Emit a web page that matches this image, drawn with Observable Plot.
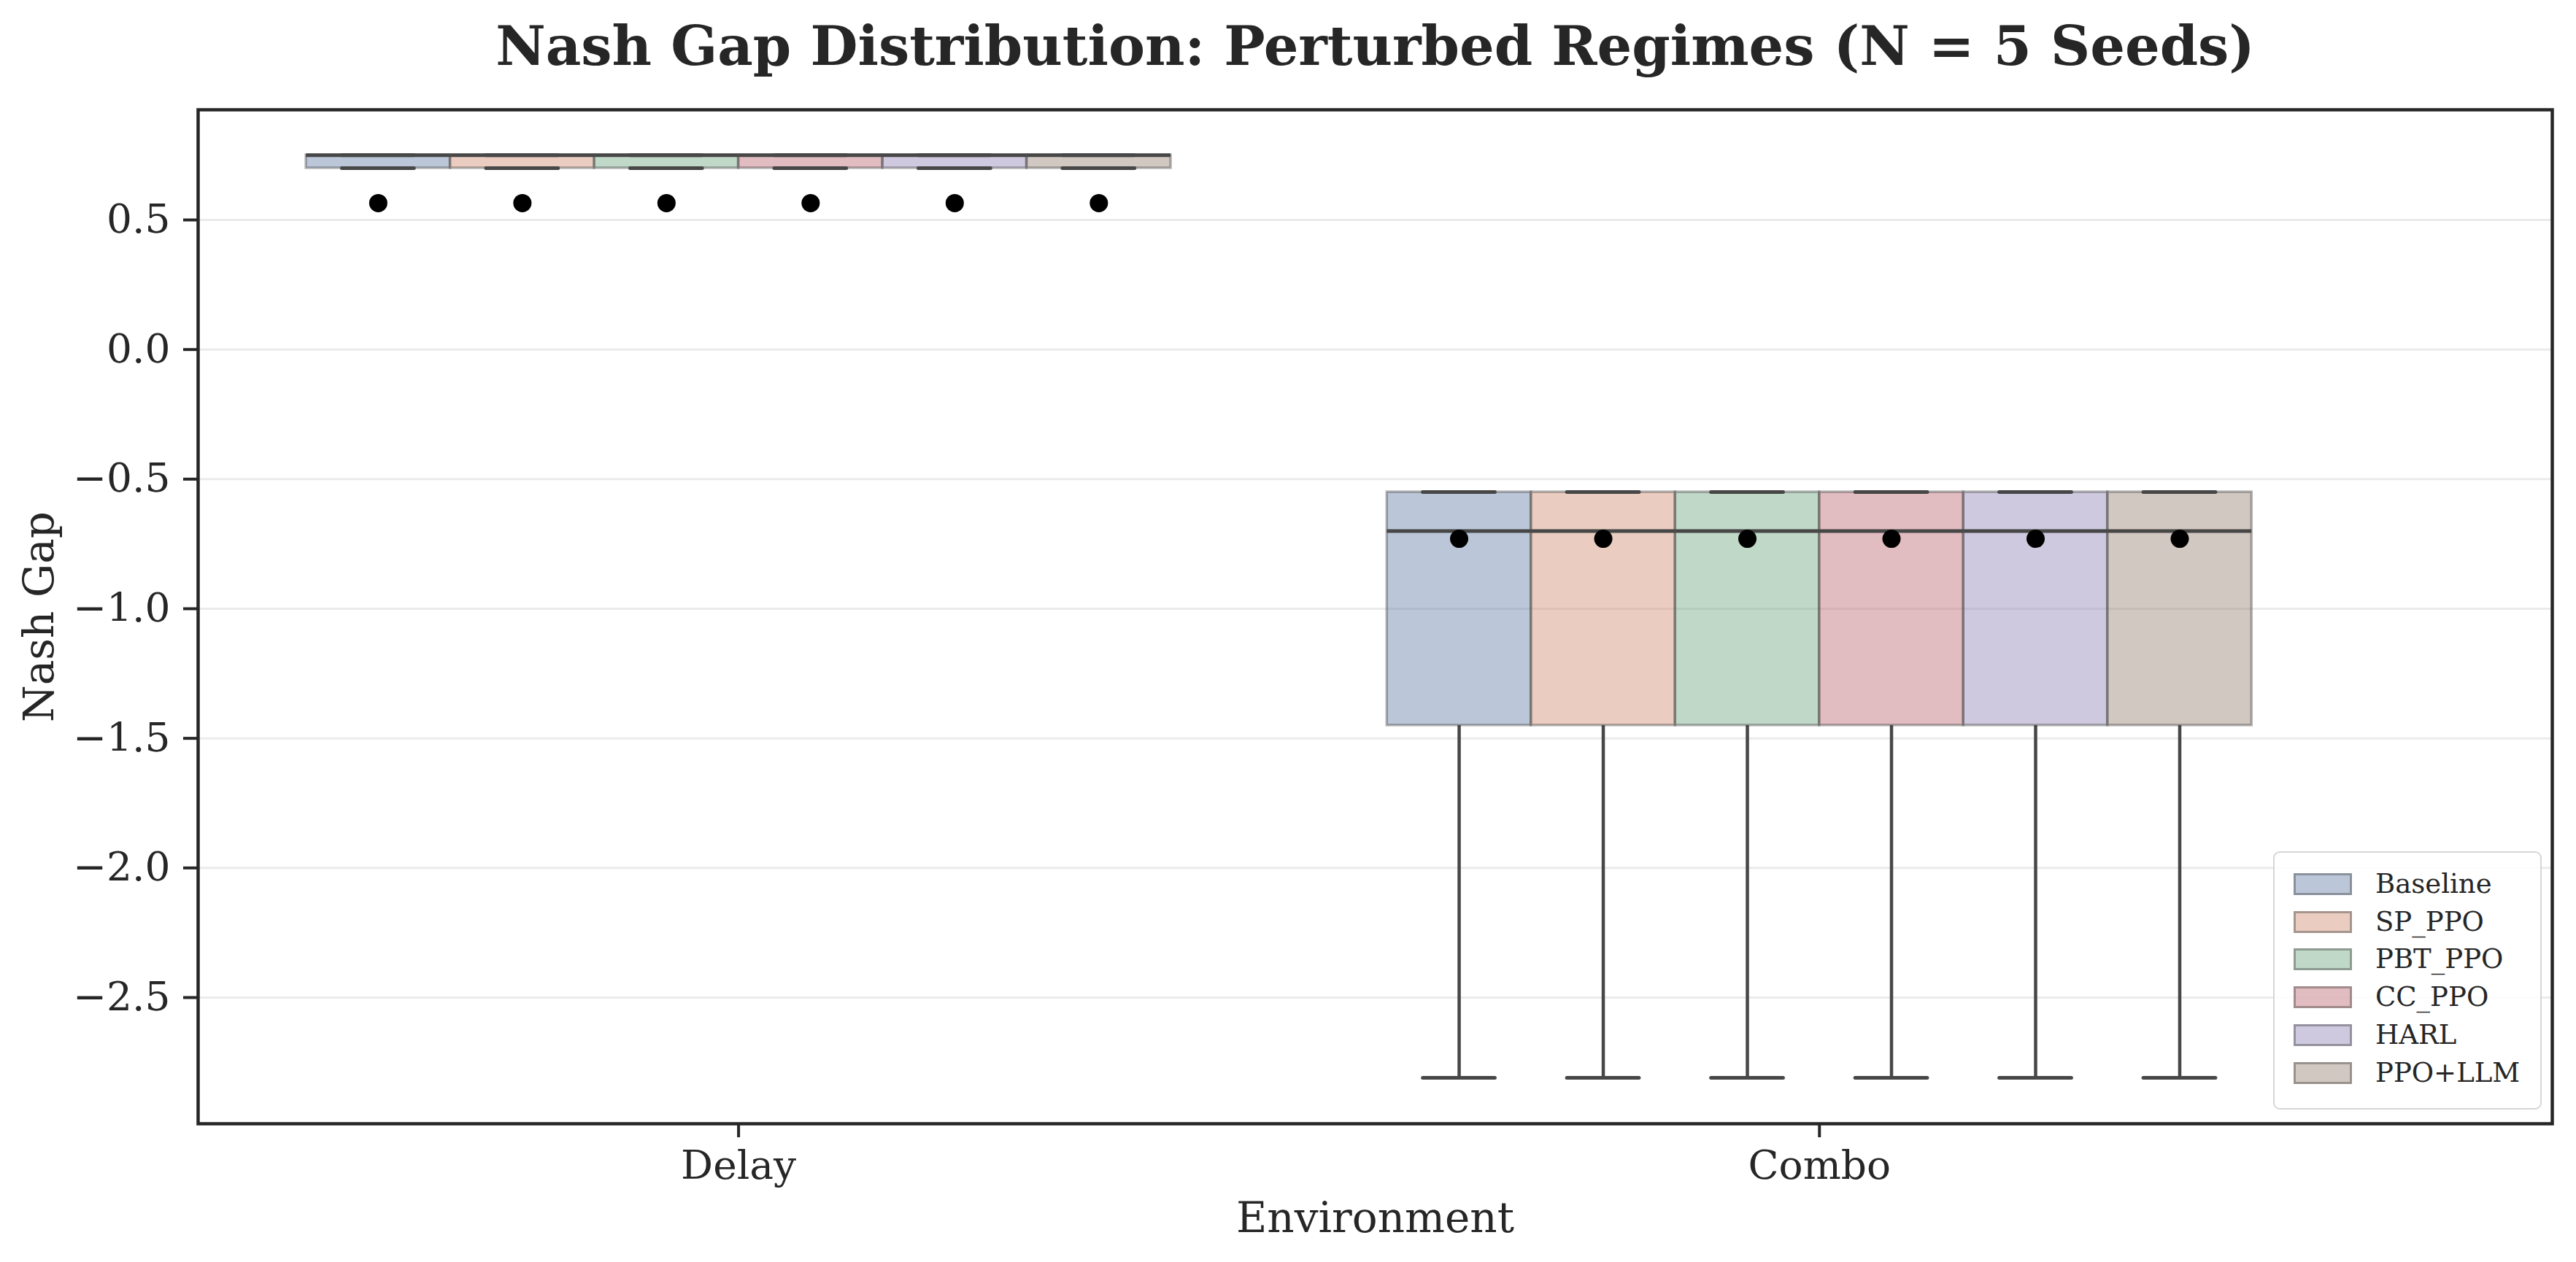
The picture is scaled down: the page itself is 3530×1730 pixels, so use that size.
<!DOCTYPE html>
<html>
<head>
<meta charset="utf-8">
<script src="https://cdn.jsdelivr.net/npm/d3@7"></script>
<script src="https://cdn.jsdelivr.net/npm/@observablehq/plot@0.6"></script>
<style>
  html, body { margin: 0; padding: 0; background: #ffffff; }
  #wrap { position: relative; width: 3530px; height: 1730px; font-family: "DejaVu Serif", serif; color: #262626; }
  #legend { position: absolute; left: 3115px; top: 1167px; width: 368px; height: 354px; box-sizing: border-box;
            border: 2.5px solid #d6d6d6; border-radius: 9px; background: rgba(255,255,255,0.85); }
  .row { position: absolute; left: 26px; height: 30px; display: flex; align-items: center; }
  .patch { width: 80px; height: 30px; box-sizing: border-box; border: 3.5px solid rgba(64,64,64,0.4); }
  .lab { position: absolute; left: 112px; font-size: 37px; white-space: nowrap; line-height: 30px; }
</style>
</head>
<body>
<div id="wrap"></div>
<script>
// ---- data ----
const environments = ["Delay", "Combo"];
const methods = ["Baseline", "SP_PPO", "PBT_PPO", "CC_PPO", "HARL", "PPO+LLM"];
const methodColors = ["#5573a0", "#ca8261", "#619d75", "#b45761", "#8478ac", "#8e7566"];
const yTicks = [0.5, 0.0, -0.5, -1.0, -1.5, -2.0, -2.5];

// per environment (rows) and method (columns)
const whiskerLow  = [[0.70, 0.70, 0.70, 0.70, 0.70, 0.70], [-2.81, -2.81, -2.81, -2.81, -2.81, -2.81]];
const q1Values    = [[0.70, 0.70, 0.70, 0.70, 0.70, 0.70], [-1.45, -1.45, -1.45, -1.45, -1.45, -1.45]];
const medianValues= [[0.75, 0.75, 0.75, 0.75, 0.75, 0.75], [-0.70, -0.70, -0.70, -0.70, -0.70, -0.70]];
const q3Values    = [[0.75, 0.75, 0.75, 0.75, 0.75, 0.75], [-0.55, -0.55, -0.55, -0.55, -0.55, -0.55]];
const whiskerHigh = [[0.75, 0.75, 0.75, 0.75, 0.75, 0.75], [-0.55, -0.55, -0.55, -0.55, -0.55, -0.55]];
const meanValues  = [[0.565, 0.565, 0.565, 0.565, 0.565, 0.565], [-0.73, -0.73, -0.73, -0.73, -0.73, -0.73]];

const titleText = "Nash Gap Distribution: Perturbed Regimes (N = 5 Seeds)";
const xLabel = "Environment";
const yLabel = "Nash Gap";

// ---- build table ----
const groupWidth = 0.8;
const boxW = groupWidth / methods.length;
const rows = [];
environments.forEach((env, e) => {
  methods.forEach((m, j) => {
    const x1 = e - groupWidth / 2 + j * boxW;
    rows.push({
      env, method: m,
      x1, x2: x1 + boxW, xc: x1 + boxW / 2,
      c1: x1 + boxW / 4, c2: x1 + 3 * boxW / 4,
      lo: whiskerLow[e][j], q1: q1Values[e][j], med: medianValues[e][j],
      q3: q3Values[e][j], hi: whiskerHigh[e][j], mean: meanValues[e][j]
    });
  });
});

const ink = "#262626";
const boxInk = "#474747";
const font = "DejaVu Serif";

const chart = Plot.plot({
  width: 3530,
  height: 1730,
  marginTop: 150,
  marginBottom: 190,
  marginLeft: 271,
  marginRight: 33,
  style: { fontFamily: font, color: ink, background: "transparent" },
  x: { type: "linear", domain: [-0.5, 1.678] },
  y: { domain: [-2.987, 0.925] },
  color: { domain: methods, range: methodColors },
  marks: [
    Plot.gridY(yTicks, { stroke: "#ebebeb", strokeOpacity: 1, strokeWidth: 3 }),
    // whiskers
    Plot.ruleX(rows, { x: "xc", y1: "q3", y2: "hi", stroke: boxInk, strokeWidth: 4.5 }),
    Plot.ruleX(rows, { x: "xc", y1: "lo", y2: "q1", stroke: boxInk, strokeWidth: 4.5 }),
    // boxes
    Plot.rect(rows, { x1: "x1", x2: "x2", y1: "q1", y2: "q3", fill: "method", fillOpacity: 0.4,
                      stroke: "#404040", strokeOpacity: 0.4, strokeWidth: 3.5 }),
    // caps
    Plot.ruleY(rows, { y: "lo", x1: "c1", x2: "c2", stroke: boxInk, strokeWidth: 5, strokeLinecap: "round" }),
    Plot.ruleY(rows, { y: "hi", x1: "c1", x2: "c2", stroke: boxInk, strokeWidth: 5, strokeLinecap: "round" }),
    // median
    Plot.ruleY(rows, { y: "med", x1: "x1", x2: "x2", stroke: boxInk, strokeWidth: 5 }),
    // mean
    Plot.dot(rows, { x: "xc", y: "mean", r: 12.5, fill: "black", stroke: "none" }),
    Plot.frame({ stroke: ink, strokeWidth: 4.5 }),
    Plot.axisY(yTicks, { tickSize: 20, tickPadding: 18, fontSize: 55, strokeWidth: 4,
                          tickFormat: d3.format(".1f"), label: null }),
    Plot.axisX([0, 1], { tickSize: 19, tickPadding: 17, fontSize: 55, strokeWidth: 4,
                          tickFormat: (d) => environments[d], label: null }),
    Plot.text([titleText], { text: (d) => d, frameAnchor: "top", dy: -62, lineAnchor: "bottom",
                             fontSize: 75, fontWeight: "bold", fill: ink }),
    Plot.text([xLabel], { text: (d) => d, frameAnchor: "bottom", dy: 148, lineAnchor: "bottom",
                          fontSize: 58, fill: ink }),
    Plot.text([yLabel], { text: (d) => d, frameAnchor: "left", dx: -199, rotate: -90, lineAnchor: "bottom",
                          textAnchor: "middle", fontSize: 58, fill: ink })
  ]
});

const wrap = document.getElementById("wrap");
wrap.appendChild(chart);

// legend
const legend = document.createElement("div");
legend.id = "legend";
methods.forEach((m, i) => {
  const row = document.createElement("div");
  row.className = "row";
  row.style.top = (28 + i * 51.7) + "px";
  const patch = document.createElement("div");
  patch.className = "patch";
  const c = d3.color(methodColors[i]); c.opacity = 0.4;
  patch.style.background = c.formatRgb();
  const lab = document.createElement("div");
  lab.className = "lab";
  lab.textContent = m;
  row.appendChild(patch);
  row.appendChild(lab);
  legend.appendChild(row);
});
wrap.appendChild(legend);
</script>
</body>
</html>
